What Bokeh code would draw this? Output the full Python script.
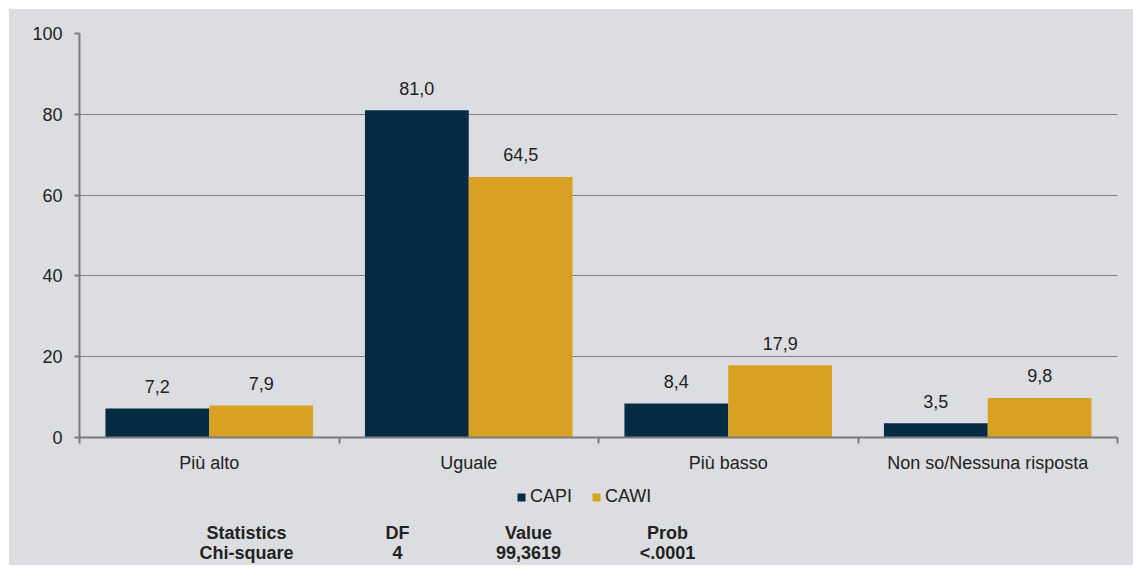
from bokeh.plotting import figure
from bokeh.layouts import column
from bokeh.models import (Range1d, FixedTicker, Legend, LegendItem,
                          ColumnDataSource, LabelSet)
from bokeh.core.properties import value
from bokeh.embed import file_html
from bokeh.resources import INLINE

categories = ["Più alto", "Uguale", "Più basso", "Non so/Nessuna risposta"]
series_names = ["CAPI", "CAWI"]
capi = [7.2, 81.0, 8.4, 3.5]
cawi = [7.9, 64.5, 17.9, 9.8]
y_ticks = [0, 20, 40, 60, 80, 100]
stats_header = ["Statistics", "DF", "Value", "Prob"]
stats_row = ["Chi-square", "4", "99,3619", "<.0001"]

BG = "#dcdde0"
NAVY = "#032b44"
GOLD = "#d9a124"
GRID = "#808080"
AXIS = "#7a7a7a"
TEXT = "#222222"
FONT = "Liberation Sans"
FS = "18px"

W = 1124
p = figure(width=W, height=466, output_backend="svg", toolbar_location=None,
           x_range=Range1d(0, 4), y_range=Range1d(0, 100),
           min_border_left=70, min_border_right=16, min_border_top=24,
           min_border_bottom=38)
p.background_fill_color = BG
p.border_fill_color = BG
p.outline_line_color = None
p.styles = {"background-color": BG}

idx = list(range(len(categories)))
src = ColumnDataSource(dict(
    x1=[i + 0.3 for i in idx], x2=[i + 0.7 for i in idx],
    capi=capi, cawi=cawi,
    capi_t=[f"{v:.1f}".replace(".", ",") for v in capi],
    cawi_t=[f"{v:.1f}".replace(".", ",") for v in cawi],
))
r1 = p.vbar(x="x1", top="capi", width=0.4, source=src, fill_color=NAVY, line_color=None)
r2 = p.vbar(x="x2", top="cawi", width=0.4, source=src, fill_color=GOLD, line_color=None)

for xcol, ycol, tcol in [("x1", "capi", "capi_t"), ("x2", "cawi", "cawi_t")]:
    ls = LabelSet(x=xcol, y=ycol, text=tcol, source=src, y_offset=22,
                  text_align="center", text_baseline="middle",
                  text_font=value(FONT), text_font_size=FS, text_color=TEXT)
    p.add_layout(ls)

# axes
p.xaxis.ticker = FixedTicker(ticks=[i + 0.5 for i in idx], minor_ticks=[0, 1, 2, 3, 4])
p.xaxis.major_label_overrides = {i + 0.5: c for i, c in enumerate(categories)}
p.xaxis.major_tick_line_color = None
p.xaxis.major_tick_out = 6
p.xaxis.minor_tick_line_color = AXIS
p.xaxis.minor_tick_line_width = 2
p.xaxis.minor_tick_out = 6
p.xaxis.minor_tick_in = 0
p.xaxis.axis_line_color = AXIS
p.xaxis.axis_line_width = 2
p.xaxis.major_label_standoff = 9
p.xaxis.major_label_text_font = FONT
p.xaxis.major_label_text_font_size = FS
p.xaxis.major_label_text_color = TEXT

p.yaxis.ticker = FixedTicker(ticks=y_ticks, minor_ticks=[])
p.yaxis.axis_line_color = AXIS
p.yaxis.axis_line_width = 2
p.yaxis.major_tick_line_color = AXIS
p.yaxis.major_tick_line_width = 2
p.yaxis.major_tick_out = 5
p.yaxis.major_tick_in = 0
p.yaxis.major_label_standoff = 12
p.yaxis.major_label_text_font = FONT
p.yaxis.major_label_text_font_size = FS
p.yaxis.major_label_text_color = TEXT

p.xgrid.grid_line_color = None
p.ygrid.ticker = FixedTicker(ticks=y_ticks)
p.ygrid.grid_line_color = GRID
p.ygrid.grid_line_width = 1

# lower panel: legend + statistics table (x in page pixels, frame aligned with p)
p2 = figure(width=W, height=90, output_backend="svg", toolbar_location=None,
            x_range=Range1d(79, 1117), y_range=Range1d(0, 90),
            min_border_left=70, min_border_right=16,
            min_border_top=0, min_border_bottom=0)
p2.background_fill_color = BG
p2.border_fill_color = BG
p2.outline_line_color = None
p2.styles = {"background-color": BG}
p2.axis.visible = False
p2.grid.visible = False

d1 = p2.vbar(x=[0], top=[0], bottom=[0], width=1, fill_color=NAVY, line_color=None)
d2 = p2.vbar(x=[0], top=[0], bottom=[0], width=1, fill_color=GOLD, line_color=None)
legend = Legend(items=[LegendItem(label=series_names[0], renderers=[d1]),
                       LegendItem(label=series_names[1], renderers=[d2])],
                orientation="horizontal", location=(437, 58),
                background_fill_alpha=0, border_line_color=None,
                glyph_width=10, glyph_height=10, label_standoff=4, spacing=19,
                padding=0, margin=0,
                label_text_font=FONT, label_text_font_size=FS,
                label_text_color=TEXT, label_height=18)
p2.add_layout(legend, "center")

col_x = [246, 397, 528, 667]
stats_src = ColumnDataSource(dict(
    x=col_x + col_x,
    y=[33] * len(col_x) + [13] * len(col_x),
    t=stats_header + stats_row,
))
p2.text(x="x", y="y", text="t", source=stats_src, text_align="center",
        text_baseline="middle", text_font=value(FONT), text_font_size=FS,
        text_font_style="bold", text_color=TEXT)

layout = column(p, p2, spacing=0)
layout.margin = (9, 0, 0, 9)
layout.styles = {"background-color": BG}
open("out.html", "w").write(file_html(layout, INLINE))
